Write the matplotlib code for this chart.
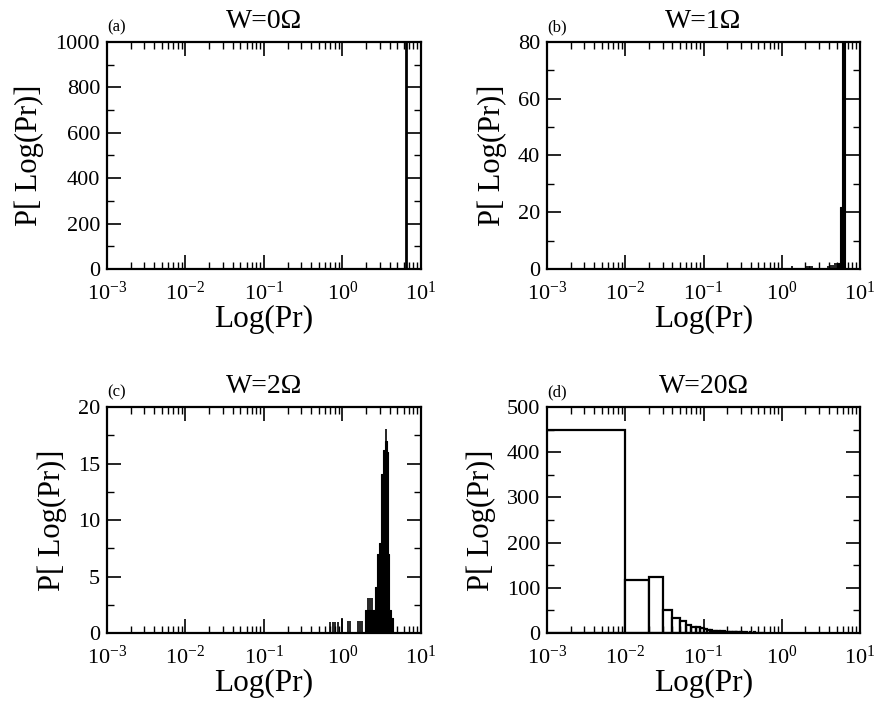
import matplotlib.pyplot as plt
import numpy as np
from matplotlib.ticker import AutoMinorLocator, MultipleLocator, LogLocator

plt.rcParams['font.family'] = 'Liberation Serif'
plt.rcParams['mathtext.fontset'] = 'stix'

# (a) W=0: a single spike
a_x = [6.38]
a_h = [1000]

# (b) W=1: sparse small bars + sharp peak near 6
b_spike_x = [1.34, 2.10, 2.20, 2.30, 2.40, 3.94, 4.30, 4.56, 4.80, 5.10]
b_spike_h = [1.0, 1.0, 1.0, 1.0, 1.0, 1.0, 1.5, 1.5, 2.0, 2.0]
b_core_x = [5.30, 5.60, 5.80, 5.95, 6.40]
b_core_h = [2.0, 22.0, 48.0, 85.0, 0.0]

# (c) W=2: spikes + peak near 3.5
c_spike_x = [0.69, 0.76, 0.80, 0.88, 0.98, 1.19, 1.25, 1.59, 1.67, 1.76, 2.10, 2.24, 2.40, 3.58]
c_spike_h = [1.0, 1.0, 1.0, 1.0, 1.3, 1.1, 1.1, 1.1, 1.1, 1.1, 3.1, 3.1, 3.1, 18.1]
c_core_x = [1.94, 2.59, 2.76, 2.92, 3.06, 3.25, 3.50, 3.72, 3.82, 3.95, 4.10, 4.40]
c_core_h = [2.0, 4.1, 7.0, 8.0, 14.1, 16.2, 17.0, 16.0, 7.0, 2.0, 1.3, 0.0]

# (d) W=20: histogram, bin width 0.01 starting at 0
d_bin_width = 0.01
d_heights = [450, 118, 124, 50, 33, 26, 17, 13, 14, 10,
             9, 7, 6, 5, 5, 4, 4, 3, 4, 3,
             3, 2, 3, 2, 2, 3, 2, 2, 1, 2,
             2, 1, 2, 1, 1, 2, 1, 1, 1, 2,
             1, 1, 1, 1, 2, 1, 1, 1, 1, 1,
             1, 0, 1, 1, 0, 1, 1, 0, 1, 1]

titles = ['W=0Ω', 'W=1Ω', 'W=2Ω', 'W=20Ω']
tags = ['(a)', '(b)', '(c)', '(d)']
y_max = [1000, 80, 20, 500]
y_major = [200, 20, 5, 100]

fig = plt.figure(figsize=(8.77, 7.06), dpi=100)
axes = [
    fig.add_axes([0.122, 0.619, 0.358, 0.3215]),
    fig.add_axes([0.6237, 0.619, 0.357, 0.3215]),
    fig.add_axes([0.122, 0.1034, 0.358, 0.320]),
    fig.add_axes([0.6237, 0.1034, 0.357, 0.320]),
]

ax = axes[0]
ax.vlines(a_x, 0, a_h, color='black', lw=2)

ax = axes[1]
ax.vlines(b_spike_x, 0, b_spike_h, color='black', lw=1.2)
ax.fill_between(b_core_x, b_core_h, step='post', color='black', lw=0.8)

ax = axes[2]
ax.vlines(c_spike_x, 0, c_spike_h, color='black', lw=1.2)
ax.fill_between(c_core_x, c_core_h, step='post', color='black', lw=0.8)

ax = axes[3]
d_left = np.arange(len(d_heights)) * d_bin_width
d_left[0] = 1e-4
d_width = np.arange(1, len(d_heights) + 1) * d_bin_width - d_left
ax.bar(d_left, d_heights, width=d_width, align='edge',
       facecolor='white', edgecolor='black', lw=1.6)

for i, ax in enumerate(axes):
    ax.set_xscale('log')
    ax.set_xlim(1e-3, 1e1)
    ax.set_ylim(0, y_max[i])
    ax.yaxis.set_major_locator(MultipleLocator(y_major[i]))
    ax.yaxis.set_minor_locator(AutoMinorLocator(2))
    ax.xaxis.set_major_locator(LogLocator(base=10, numticks=10))
    ax.xaxis.set_minor_locator(LogLocator(base=10, subs=np.arange(2, 10), numticks=20))
    ax.tick_params(which='both', direction='in', top=True, right=True, labelsize=16)
    ax.tick_params(which='major', length=10, width=1.2)
    ax.tick_params(axis='y', which='major', pad=5)
    ax.tick_params(axis='x', which='major', pad=9)
    ax.tick_params(which='minor', length=5, width=1.0)
    for s in ax.spines.values():
        s.set_linewidth(1.6)
    ax.set_xlabel('Log(Pr)', fontsize=22.5, labelpad=0)
    ax.set_ylabel('P[ Log(Pr)]', fontsize=22, labelpad=8)
    ax.set_title(titles[i], fontsize=20, pad=10)
    ax.text(0.0, 1.03, tags[i], transform=ax.transAxes, fontsize=12,
            ha='left', va='bottom')

fig.savefig('out.png', dpi=100)
